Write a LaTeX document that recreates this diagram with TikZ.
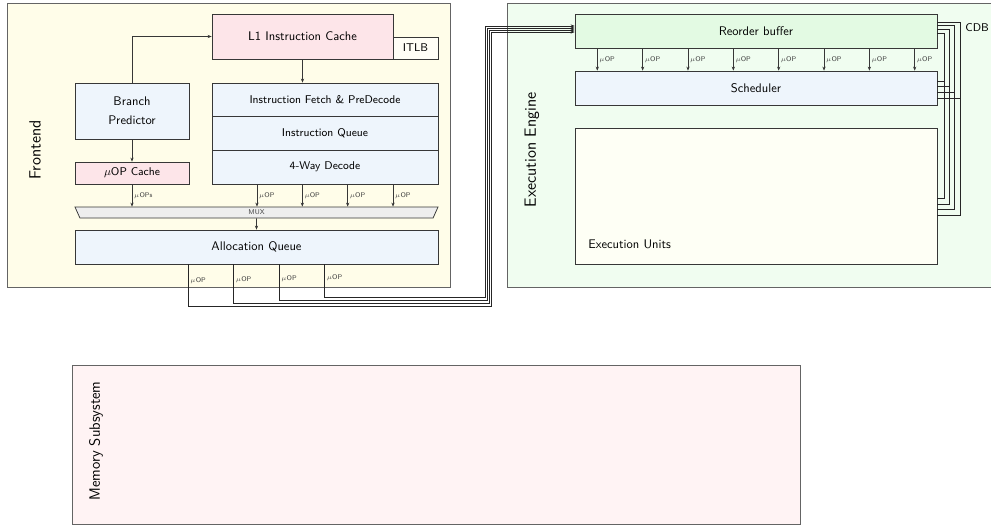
\documentclass[tikz,border=0pt]{standalone}
\usepackage{fontspec}
\usetikzlibrary{shapes.geometric,arrows.meta,calc}
\definecolor{feBg}{RGB}{255,253,233}
\definecolor{eeBg}{RGB}{240,253,240}
\definecolor{memBg}{RGB}{255,243,244}
\definecolor{pinkBox}{RGB}{253,229,233}
\definecolor{blueBox}{RGB}{238,245,252}
\definecolor{robBox}{RGB}{227,250,227}
\definecolor{euBox}{RGB}{254,255,245}
\definecolor{muxBg}{RGB}{238,238,238}
\definecolor{edgeC}{RGB}{55,55,55}
\definecolor{outerC}{RGB}{100,100,100}
\begin{document}
\begin{tikzpicture}[x=0.8pt,y=-0.8pt,
  fnt/.style={font=\fontsize{#1}{#1}\selectfont\sffamily},
  sz/.style 2 args={minimum width=#1*0.8pt, minimum height=#2*0.8pt, anchor=center},
  region/.style={draw=outerC, line width=0.7pt, inner sep=0pt},
  unit/.style={draw=edgeC, line width=0.6pt, inner sep=0pt},
  arr/.style={draw=edgeC, line width=0.5pt, -{Stealth[length=3.2pt,width=2.6pt]}},
  wire/.style={draw=black!85, line width=0.5pt},
  ulbl/.style={fnt=5.5, text=black!75, anchor=west, inner sep=1.5pt},
  biglbl/.style={fnt=13, rotate=90}]
\clip (0,0) rectangle (991,525);
% regions
\node[region, fill=feBg, sz={443}{284}] (fe) at (228.5,145) {};
\node[region, fill=eeBg, sz={493}{284}] (ee) at (753.5,145) {};
\node[region, fill=memBg, sz={728}{159}] (mem) at (436,444.5) {};
\node[biglbl] (fel) at (35,150) {Frontend};
\node[biglbl] (eel) at (532,150) {Execution Engine};
\node[fnt=12, rotate=90] (meml) at (96,441) {Memory Subsystem};
% frontend units
\node[unit, fill=feBg!40!white, sz={45}{22}, fnt=9] (itlb) at (415.5,48) {ITLB};
\node[unit, fill=pinkBox, sz={181}{45}, fnt=10] (l1) at (302.5,36.5) {L1 Instruction Cache};
\node[unit, fill=blueBox, sz={114}{56}, font=\fontsize{10}{15}\selectfont\sffamily, align=center] (bp) at (132,111) {Branch\\Predictor};
\node[unit, fill=pinkBox, sz={114}{22}, fnt=9] (uc) at (132,173) {$\mu$OP Cache};
\node[unit, fill=blueBox, sz={226}{33}, fnt=9] (ifd) at (325,99.5) {Instruction Fetch \& PreDecode};
\node[unit, fill=blueBox, sz={226}{34}, fnt=9] (iq) at (325,133) {Instruction Queue};
\node[unit, fill=blueBox, sz={226}{34}, fnt=9] (dec) at (325,167) {4-Way Decode};
\node[trapezium, draw=edgeC, line width=0.6pt, fill=muxBg, shape border rotate=180,
      trapezium angle=45, trapezium stretches body, minimum width=363*0.8pt,
      minimum height=11*0.8pt, inner sep=0pt, fnt=5.5, text=black!75] (mux) at (256.5,212.5) {MUX};
\node[unit, fill=blueBox, sz={363}{34}, fnt=10] (aq) at (256.5,247) {Allocation Queue};
% execution engine units
\node[unit, fill=robBox, sz={362}{34}, fnt=10] (rob) at (756,31) {Reorder buffer};
\node[unit, fill=blueBox, sz={362}{34}, fnt=10] (sch) at (756,88) {Scheduler};
\node[unit, fill=euBox, sz={362}{136}] (eu) at (756,196) {};
\node[fnt=10, anchor=west] (eul) at (584,244) {Execution Units};
\node[fnt=9, anchor=west] (cdb) at (961,28) {CDB};
% frontend connectors
\draw[arr] (bp.north) |- (l1.west);
\draw[arr] (bp.south) -- (uc.north);
\draw[arr] (l1.south) -- (l1.south |- ifd.north);
\draw[arr] (uc.south) -- node[ulbl]{$\mu$OPs} (uc.south |- mux.north);
\foreach \i in {1,...,4}{
  \coordinate (dx\i) at ($(dec.south west)!{\i/5}!(dec.south east)$);
  \draw[arr] (dx\i) -- node[ulbl]{$\mu$OP} (dx\i |- mux.north);
}
\draw[arr] (mux.south) -- (aq.north);
% allocation queue to reorder buffer
\foreach \i/\f/\yb/\xr/\yt in {1/5/306/491/32, 2/7/303/489/30, 3/9/300/487/28, 4/11/297/485/26}{
  \coordinate (ax\i) at ($(aq.south west)!{\f/16}!(aq.south east)$);
  \coordinate (q\i) at (ax\i |- 0,\yb);
  \coordinate (r\i) at (\xr,\yt);
  \draw[wire, -{Stealth[length=3.2pt,width=2.6pt]}] (ax\i) -- node[ulbl, pos=0.4]{$\mu$OP} (q\i) -| (r\i) -- (rob.west |- r\i);
}
% reorder buffer to scheduler
\foreach \k in {1,...,8}{
  \coordinate (rx\k) at ($(rob.south west)!{(2*\k-1)/16}!(rob.south east)$);
  \draw[arr] (rx\k) -- node[ulbl]{$\mu$OP} (rx\k |- sch.north);
}
% common data bus
\foreach \i/\x/\ye/\ys/\yr in {1/944/198/81/33.3, 2/949.3/204/86.7/29.5, 3/954.6/209.5/92.3/25.8, 4/960/215/98/22.3}{
  \coordinate (ce\i) at (\x,\ye);
  \coordinate (cs\i) at (\x,\ys);
  \coordinate (cr\i) at (\x,\yr);
  \draw[wire] (eu.east |- ce\i) -- (ce\i) -- (cr\i) -- (rob.east |- cr\i);
  \draw[wire] (sch.east |- cs\i) -- (cs\i);
}
\end{tikzpicture}
\end{document}
